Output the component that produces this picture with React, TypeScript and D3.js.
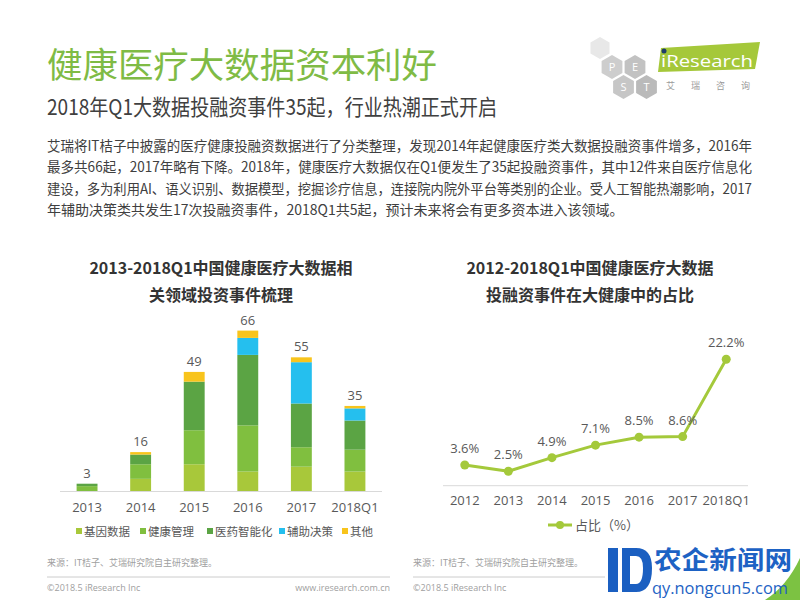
import React from 'react';
import * as d3 from 'd3';

const barYears = ['2013', '2014', '2015', '2016', '2017', '2018Q1'];
const barSeriesNames = ['基因数据', '健康管理', '医药智能化', '辅助决策', '其他'];
const geneData = [0, 5, 11, 8, 10, 8];
const healthMgmt = [2, 6, 14, 19, 8, 9];
const pharmaAI = [1, 4, 20, 29, 18, 12];
const auxDecision = [0, 0, 0, 7, 17, 5];
const others = [0, 1, 4, 3, 2, 1];
const barTotals = [3, 16, 49, 66, 55, 35];
const barColors = ['#a8c83a', '#80bf3f', '#5ba444', '#25bfee', '#f8c41c'];

const lineYears = ['2012', '2013', '2014', '2015', '2016', '2017', '2018Q1'];
const shareValues = [3.6, 2.5, 4.9, 7.1, 8.5, 8.6, 22.2];
const shareLabels = ['3.6%', '2.5%', '4.9%', '7.1%', '8.5%', '8.6%', '22.2%'];

const paragraphLines = [
  '艾瑞将IT桔子中披露的医疗健康投融资数据进行了分类整理，发现2014年起健康医疗类大数据投融资事件增多，2016年',
  '最多共66起，2017年略有下降。2018年，健康医疗大数据仅在Q1便发生了35起投融资事件，其中12件来自医疗信息化',
  '建设，多为利用AI、语义识别、数据模型，挖掘诊疗信息，连接院内院外平台等类别的企业。受人工智能热潮影响，2017',
  '年辅助决策类共发生17次投融资事件，2018Q1共5起，预计未来将会有更多资本进入该领域。',
];

const FONT = '"Noto Sans CJK SC", "Open Sans", sans-serif';
const NUMFONT = '"Open Sans", "Noto Sans CJK SC", sans-serif';

function hexPoints(cx: number, cy: number, r: number) {
  const pts: string[] = [];
  for (let i = 0; i < 6; i++) {
    const a = (Math.PI / 3) * i + Math.PI / 6;
    pts.push(`${cx + r * Math.cos(a)},${cy + r * Math.sin(a)}`);
  }
  return pts.join(' ');
}

export default function App() {
  // Bar chart
  const xBand = d3.scaleBand<string>().domain(barYears).range([60, 382]).paddingInner(0.61).paddingOuter(0.31);
  const yBar = d3.scaleLinear().domain([0, 66]).range([491, 330.6]);
  const table = barYears.map((y, i) => ({
    year: y,
    gene: geneData[i],
    health: healthMgmt[i],
    pharma: pharmaAI[i],
    aux: auxDecision[i],
    other: others[i],
  }));
  const keys = ['gene', 'health', 'pharma', 'aux', 'other'];
  const stacked = d3.stack<any>().keys(keys)(table);

  // Line chart
  const xPoint = d3.scalePoint<string>().domain(lineYears).range([443, 748]).padding(0.5);
  const yLine = d3.scaleLinear().domain([0, 22.2]).range([485.5, 359.3]);
  const lineGen = d3
    .line<number>()
    .x((_, i) => xPoint(lineYears[i]) as number)
    .y((d) => yLine(d));

  const legendX = [76, 140, 207, 279, 342];
  const lineColor = '#a4c93b';

  return (
    <svg
      width={800}
      height={600}
      style={{ position: 'absolute', left: 0, top: 0, display: 'block', background: '#fff' }}
    >
      <rect x={0} y={0} width={800} height={600} fill="#fff" />

      {/* Header */}
      <text x={47} y={78} fontFamily={FONT} fontSize={35} fill="#7fbb45" textLength={390} lengthAdjust="spacingAndGlyphs">
        健康医疗大数据资本利好
      </text>
      <text x={47} y={115} fontFamily={FONT} fontSize={22} fill="#404040" textLength={450} lengthAdjust="spacingAndGlyphs">
        2018年Q1大数据投融资事件35起，行业热潮正式开启
      </text>

      {/* Logo */}
      <g>
        <polygon points={hexPoints(600, 48, 11)} fill="#e8e8e8" />
        <polygon points={hexPoints(612, 67, 12)} fill="#cdcdcd" />
        <polygon points={hexPoints(635, 67, 12)} fill="#c2c2c2" />
        <polygon points={hexPoints(623.5, 87, 12)} fill="#c6c6c6" />
        <polygon points={hexPoints(646.5, 87, 12)} fill="#bababa" />
        <text x={612} y={71} textAnchor="middle" fontFamily={NUMFONT} fontSize={11} fill="#fff">P</text>
        <text x={635} y={71} textAnchor="middle" fontFamily={NUMFONT} fontSize={11} fill="#fff">E</text>
        <text x={623.5} y={91} textAnchor="middle" fontFamily={NUMFONT} fontSize={11} fill="#fff">S</text>
        <text x={646.5} y={91} textAnchor="middle" fontFamily={NUMFONT} fontSize={11} fill="#fff">T</text>
        <polygon points="661,48 760,42 755,69 658,72" fill="#a5c83a" />
        <circle cx={664} cy={51} r={2.5} fill="#1f3d6b" />
        <text x={661} y={67} fontFamily={NUMFONT} fontSize={17} fill="#fff" textLength={92} lengthAdjust="spacingAndGlyphs">
          iResearch
        </text>
        <text x={666} y={89} fontFamily={FONT} fontSize={9} fill="#9a9a9a" textLength={84} lengthAdjust="spacing">
          艾瑞咨询
        </text>
      </g>

      {/* Paragraph */}
      {paragraphLines.map((line, i) => (
        <text
          key={i}
          x={47}
          y={151 + i * 21.3}
          fontFamily={FONT}
          fontSize={14}
          fill="#404040"
          {...(i < 3 ? { textLength: 705, lengthAdjust: 'spacingAndGlyphs' } : {})}
        >
          {line}
        </text>
      ))}

      {/* Left chart title */}
      <text x={221} y={274} textAnchor="middle" fontFamily={FONT} fontSize={16} fontWeight="bold" fill="#333">
        2013-2018Q1中国健康医疗大数据相
      </text>
      <text x={221} y={301} textAnchor="middle" fontFamily={FONT} fontSize={16} fontWeight="bold" fill="#333">
        关领域投资事件梳理
      </text>

      {/* Bars */}
      {stacked.map((layer, li) => (
        <g key={li} fill={barColors[li]}>
          {layer.map((d: any, i: number) => (
            <rect
              key={i}
              x={xBand(barYears[i])}
              y={yBar(d[1])}
              width={xBand.bandwidth()}
              height={Math.max(0, yBar(d[0]) - yBar(d[1]))}
            />
          ))}
        </g>
      ))}
      <line x1={60} x2={382} y1={491.5} y2={491.5} stroke="#d9d9d9" strokeWidth={1} />
      {barYears.map((y, i) => (
        <g key={y}>
          <text
            x={(xBand(y) as number) + xBand.bandwidth() / 2}
            y={yBar(barTotals[i]) - 6}
            textAnchor="middle"
            fontFamily={NUMFONT}
            fontSize={13}
            fill="#595959"
          >
            {barTotals[i]}
          </text>
          <text
            x={(xBand(y) as number) + xBand.bandwidth() / 2}
            y={512}
            textAnchor="middle"
            fontFamily={NUMFONT}
            fontSize={13}
            fill="#595959"
          >
            {y}
          </text>
        </g>
      ))}
      {/* Bar legend */}
      {barSeriesNames.map((n, i) => (
        <g key={n}>
          <rect x={legendX[i]} y={528} width={6} height={6} fill={barColors[i]} />
          <text x={legendX[i] + 8} y={535.5} fontFamily={FONT} fontSize={11.5} fill="#595959">
            {n}
          </text>
        </g>
      ))}

      {/* Right chart title */}
      <text x={590} y={274} textAnchor="middle" fontFamily={FONT} fontSize={16} fontWeight="bold" fill="#333">
        2012-2018Q1中国健康医疗大数据
      </text>
      <text x={590} y={301} textAnchor="middle" fontFamily={FONT} fontSize={16} fontWeight="bold" fill="#333">
        投融资事件在大健康中的占比
      </text>

      {/* Line chart */}
      <line x1={443} x2={748} y1={485.7} y2={485.7} stroke="#d9d9d9" strokeWidth={1} />
      <path d={lineGen(shareValues) as string} fill="none" stroke={lineColor} strokeWidth={3} strokeLinejoin="round" />
      {shareValues.map((v, i) => (
        <g key={i}>
          <circle cx={xPoint(lineYears[i])} cy={yLine(v)} r={4.5} fill={lineColor} />
          <text
            x={xPoint(lineYears[i])}
            y={yLine(v) - 12}
            textAnchor="middle"
            fontFamily={NUMFONT}
            fontSize={13}
            fill="#595959"
          >
            {shareLabels[i]}
          </text>
          <text x={xPoint(lineYears[i])} y={505} textAnchor="middle" fontFamily={NUMFONT} fontSize={13} fill="#595959">
            {lineYears[i]}
          </text>
        </g>
      ))}
      {/* Line legend */}
      <line x1={548} x2={572} y1={525} y2={525} stroke={lineColor} strokeWidth={3} />
      <circle cx={560} cy={525} r={4} fill={lineColor} />
      <text x={575} y={530} fontFamily={FONT} fontSize={13} fill="#595959">
        占比（%）
      </text>

      {/* Footers */}
      <text x={47} y={566} fontFamily={FONT} fontSize={9} fill="#a0a0a0">来源：IT桔子、艾瑞研究院自主研究整理。</text>
      <line x1={47} x2={390} y1={577} y2={577} stroke="#cccccc" strokeWidth={1} />
      <text x={47} y={591} fontFamily={NUMFONT} fontSize={9} fill="#a0a0a0">©2018.5 iResearch Inc</text>
      <text x={390} y={591} textAnchor="end" fontFamily={NUMFONT} fontSize={9} fill="#a0a0a0">www.iresearch.com.cn</text>

      <text x={413} y={566} fontFamily={FONT} fontSize={9} fill="#a0a0a0">来源：IT桔子、艾瑞研究院自主研究整理。</text>
      <line x1={413} x2={605} y1={577} y2={577} stroke="#cccccc" strokeWidth={1} />
      <text x={413} y={591} fontFamily={NUMFONT} fontSize={9} fill="#a0a0a0">©2018.5 iResearch Inc</text>

      {/* Watermark */}
      <g>
        <path d="M765,600 Q787,586 800,558 L800,600 Z" fill="#7cc242" />
        <path d="M608,548 L618,548 L618,592 L608,592 Z" fill="#1b5fc1" />
        <path d="M622,548 L636,548 Q652,548 652,568 Q652,592 636,592 L622,592 Z M630,556 L630,584 L636,584 Q643,584 643,568 Q643,556 636,556 Z" fill="#1b5fc1" fillRule="evenodd" />
        <text x={654} y={569} fontFamily={FONT} fontSize={25} fontWeight="bold" fill="#1d62c4" textLength={138} lengthAdjust="spacingAndGlyphs">
          农企新闻网
        </text>
        <text x={652} y={594} fontFamily={NUMFONT} fontSize={16} fill="#1d62c4" textLength={136} lengthAdjust="spacingAndGlyphs">
          qy.nongcun5.com
        </text>
      </g>
    </svg>
  );
}
